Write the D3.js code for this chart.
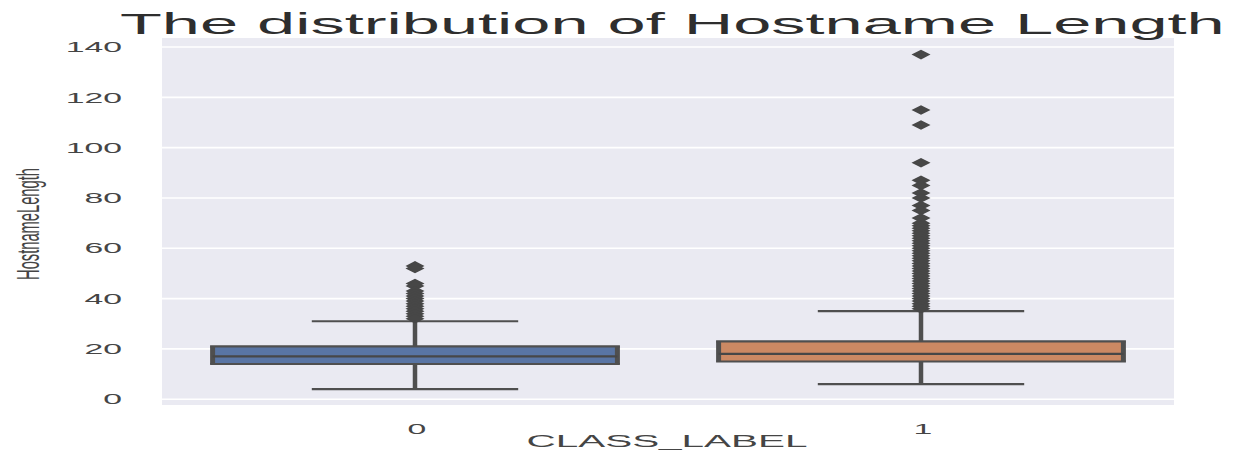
<!DOCTYPE html>
<html><head><meta charset="utf-8">
<script src="https://cdn.jsdelivr.net/npm/d3@7"></script>
<style>
html,body{margin:0;padding:0;background:#fff;}
svg{display:block;font-family:"Liberation Sans",Arial,Helvetica,sans-serif;}
</style></head>
<body>
<svg id="chart" width="1239" height="450"></svg>
<script>
// ---- data ----
const categories = ["0", "1"];
const q1 = [14, 15];
const median = [17, 18];
const q3 = [21, 23];
const whiskerLow = [4, 6];
const whiskerHigh = [31, 35];
const outliers0 = [53, 52, 46, 45, 43, 42, 41, 40, 39, 38, 37, 36, 35, 34, 33, 32];
const outliers1 = [137, 115, 109, 94, 87, 85, 82, 80, 77, 75, 72, 70, 69, 68, 67, 66, 65, 64, 63, 62, 61, 60, 59, 58, 57, 56, 55, 54, 53, 52, 51, 50, 49, 48, 47, 46, 45, 44, 43, 42, 41, 40, 39, 38, 37, 36];
const outliers = [outliers0, outliers1];
const yTicks = [0, 20, 40, 60, 80, 100, 120, 140];
const colors = ["#5975a4", "#cc8963"];
const title = "The distribution of Hostname Length";
const xLabel = "CLASS_LABEL";
const yLabel = "HostnameLength";

// ---- layout ----
const svg = d3.select("#chart");
const plot = {left: 162, right: 1174, top: 38, bottom: 405};
const x = d3.scaleBand().domain(categories).range([plot.left, plot.right]);
const y = d3.scaleLinear().domain([-2.3, 143.6]).range([plot.bottom, plot.top]);
const lineCol = "#4f4f4f";
const textCol = "#454545";
const SX = 2.25; // horizontal stretch of the picture

function fit(sel, x0, y0, width, anchor) {
  const w = sel.node().getComputedTextLength();
  const s = width / w;
  const xx = anchor === "middle" ? x0 : x0;
  sel.attr("transform", `translate(${xx},${y0}) scale(${s},1)`);
}

// background
svg.append("rect").attr("x", plot.left).attr("y", plot.top)
  .attr("width", plot.right - plot.left).attr("height", plot.bottom - plot.top)
  .attr("fill", "#eaeaf2");

// grid
svg.append("g").selectAll("line").data(yTicks).join("line")
  .attr("x1", plot.left).attr("x2", plot.right)
  .attr("y1", d => y(d)).attr("y2", d => y(d))
  .attr("stroke", "#ffffff").attr("stroke-width", 1.6);

// y tick labels
svg.append("g").selectAll("text").data(yTicks).join("text")
  .attr("transform", d => `translate(122,${y(d)}) scale(${SX},1)`)
  .attr("text-anchor", "end").attr("dominant-baseline", "central")
  .attr("font-size", 15).attr("fill", textCol)
  .text(d => d);

// x tick labels
svg.append("g").selectAll("text").data(categories).join("text")
  .attr("transform", d => `translate(${x(d) + x.bandwidth() / 2 + 2},434) scale(${SX},1)`)
  .attr("text-anchor", "middle")
  .attr("font-size", 15).attr("fill", textCol)
  .text(d => d);

// axis labels
const xl = svg.append("text")
  .attr("text-anchor", "middle").attr("font-size", 16).attr("fill", textCol)
  .text(xLabel);
fit(xl, 667, 447, 281, "middle");
svg.append("text")
  .attr("transform", `translate(28,224) scale(2.1,1) rotate(-90)`)
  .attr("text-anchor", "middle").attr("dominant-baseline", "central")
  .attr("font-size", 14.7).attr("fill", textCol)
  .text(yLabel);

// title, fitted to its width
const t = svg.append("text")
  .attr("font-size", 30).attr("fill", "#2e2e2e").text(title);
fit(t, 120, 34, 1105, "start");

// boxes
const bw = x.bandwidth() * 0.8;
categories.forEach((c, i) => {
  const cx = x(c) + x.bandwidth() / 2;
  const g = svg.append("g");
  // whiskers
  g.append("line").attr("x1", cx).attr("x2", cx).attr("y1", y(q3[i])).attr("y2", y(whiskerHigh[i]))
    .attr("stroke", lineCol).attr("stroke-width", 4.5);
  g.append("line").attr("x1", cx).attr("x2", cx).attr("y1", y(q1[i])).attr("y2", y(whiskerLow[i]))
    .attr("stroke", lineCol).attr("stroke-width", 4.5);
  [whiskerHigh[i], whiskerLow[i]].forEach(v => {
    g.append("line").attr("x1", cx - bw / 4 - 2).attr("x2", cx + bw / 4 + 2)
      .attr("y1", y(v)).attr("y2", y(v)).attr("stroke", lineCol).attr("stroke-width", 2.2);
  });
  // box
  g.append("rect").attr("x", cx - bw / 2).attr("y", y(q3[i]))
    .attr("width", bw).attr("height", y(q1[i]) - y(q3[i]))
    .attr("fill", colors[i]);
  [q3[i], q1[i]].forEach(v => {
    g.append("line").attr("x1", cx - bw / 2 - 2.5).attr("x2", cx + bw / 2 + 2.5)
      .attr("y1", y(v)).attr("y2", y(v)).attr("stroke", lineCol).attr("stroke-width", 2.2);
  });
  [cx - bw / 2, cx + bw / 2].forEach(xx => {
    g.append("line").attr("x1", xx).attr("x2", xx)
      .attr("y1", y(q3[i])).attr("y2", y(q1[i])).attr("stroke", lineCol).attr("stroke-width", 5);
  });
  g.append("line").attr("x1", cx - bw / 2).attr("x2", cx + bw / 2)
    .attr("y1", y(median[i])).attr("y2", y(median[i]))
    .attr("stroke", "#474747").attr("stroke-width", 2.2);
  // outliers (diamonds)
  g.selectAll("path.o").data(outliers[i]).join("path")
    .attr("class", "o")
    .attr("d", "M0,-1L1,0L0,1L-1,0Z")
    .attr("transform", d => `translate(${cx},${y(d)}) scale(9.5,4.8)`)
    .attr("fill", "#474747");
});
</script>
</body></html>
